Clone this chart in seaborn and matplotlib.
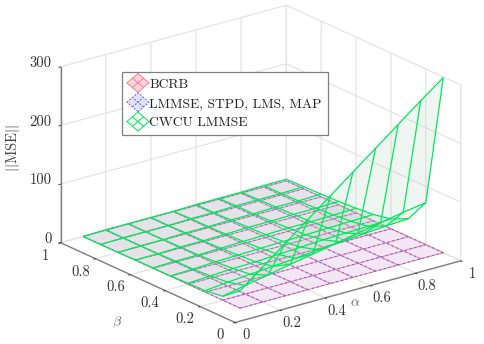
import matplotlib
matplotlib.use("Agg")
import numpy as np
import matplotlib.pyplot as plt
import seaborn as sns
from matplotlib.legend_handler import HandlerBase
from matplotlib.lines import Line2D
from matplotlib.patches import Polygon, Patch
from mpl_toolkits.mplot3d import proj3d

alpha_values = [0.1, 0.2, 0.3, 0.4, 0.5, 0.6, 0.7, 0.8, 0.9, 1.0]
beta_values = [0.1, 0.2, 0.3, 0.4, 0.5, 0.6, 0.7, 0.8, 0.9, 1.0]
bcrb_floor = [0.3, 0.3, 0.3, 0.3, 0.3, 0.3, 0.3, 0.3, 0.3, 0.3]
lmmse_floor = [0.4, 0.4, 0.4, 0.4, 0.4, 0.4, 0.4, 0.4, 0.4, 0.4]
cwcu_b01 = [30, 60, 90, 120, 150, 180, 210, 240, 270, 299]
cwcu_b02 = [7, 15, 22, 30, 37, 44, 52, 59, 66, 72]
cwcu_b03 = [3, 7, 10, 13, 16, 20, 23, 26, 29, 31]
cwcu_b04 = [2, 4, 6, 7, 9, 11, 13, 14, 15, 17]
cwcu_b05 = [1, 2, 4, 5, 6, 7, 8, 9, 10, 11]
cwcu_b06 = [1, 2, 2, 3, 4, 5, 6, 6, 7, 8]
cwcu_b07 = [1, 1, 2, 2, 3, 4, 4, 5, 5, 6]
cwcu_b08 = [0, 1, 1, 2, 2, 3, 3, 4, 4, 5]
cwcu_b09 = [0, 1, 1, 1, 2, 2, 3, 3, 3, 4]
cwcu_b10 = [0, 1, 1, 1, 1, 2, 2, 2, 3, 3]
series_labels = ["BCRB", "LMMSE, STPD, LMS, MAP", "CWCU LMMSE"]
ticks_xy = [0, 0.2, 0.4, 0.6, 0.8, 1]
ticks_z = [0, 100, 200, 300]
tick_labels_xy = ["0", "0.2", "0.4", "0.6", "0.8", "1"]
tick_labels_z = ["0", "100", "200", "300"]

sns.set_theme(style="white")
plt.rcParams["font.family"] = ["cmr10", "DejaVu Serif"]
plt.rcParams["mathtext.fontset"] = "cm"
plt.rcParams["axes.unicode_minus"] = False
plt.rcParams["axes.formatter.use_mathtext"] = True

RED, BLUE, GREEN = "#ff7d93", "#6a60ea", "#00e85c"
X, Y = np.meshgrid(alpha_values, beta_values)
Z_cwcu = np.array([cwcu_b01, cwcu_b02, cwcu_b03, cwcu_b04, cwcu_b05,
                   cwcu_b06, cwcu_b07, cwcu_b08, cwcu_b09, cwcu_b10], dtype=float)
Z_bcrb = np.outer(np.ones(len(beta_values)), bcrb_floor)
Z_lmmse = np.outer(np.ones(len(beta_values)), lmmse_floor)

fig = plt.figure(figsize=(4.84, 3.44), dpi=100)
ax = fig.add_axes([14 / 484, 3.5 / 344, 1, 1], projection="3d", proj_type="ortho", computed_zorder=False)
ax.view_init(elev=20.7, azim=-127.7)
ax.set_box_aspect((1, 1, 0.659), zoom=1.256)
ax.set_xlim(0, 1); ax.set_ylim(0, 1); ax.set_zlim(0, 300)
ax.patch.set_alpha(0)

marks = [
    ax.plot_surface(X, Y, Z_bcrb, color="#f3c6e6", alpha=0.32, linewidth=0, shade=False, zorder=1),
    ax.plot_wireframe(X, Y, Z_bcrb, color=RED, linewidth=0.8, zorder=2),
    ax.plot_surface(X, Y, Z_lmmse, color="#d8d8f4", alpha=0.22, linewidth=0, shade=False, zorder=3),
    ax.plot_wireframe(X, Y, Z_lmmse, color=BLUE, linewidth=0.65, linestyle=(0, (2.5, 3)), zorder=4),
    ax.plot_surface(X, Y, Z_cwcu, color="#a5cbae", alpha=0.17, linewidth=0, shade=False, zorder=5),
    ax.plot_wireframe(X, Y, Z_cwcu, color=GREEN, linewidth=0.9, zorder=6),
]
for m in marks:
    m.set_clip_on(False)

ax.set_xticks(ticks_xy); ax.set_xticklabels([""] * len(ticks_xy))
ax.set_yticks(ticks_xy); ax.set_yticklabels([""] * len(ticks_xy))
ax.set_zticks(ticks_z); ax.set_zticklabels([""] * len(ticks_z))
for a in (ax.xaxis, ax.yaxis, ax.zaxis):
    a.set_pane_color((1, 1, 1, 0))
    a.pane.set_edgecolor("#dddddd")
    a._axinfo["grid"].update(color="#e4e4e4", linewidth=0.9)
    a._axinfo["tick"].update(inward_factor=0.1, outward_factor=0.0, color="#999999", linewidth={True: 0.6, False: 0.4})
    a.line.set_color("#808080")
    a.line.set_linewidth(1.0)


def tick_text(x, y, z, label, dx, dy, ha="center"):
    px, py, _ = proj3d.proj_transform(x, y, z, ax.get_proj())
    ax.annotate(label, xy=(px, py), xycoords="data", xytext=(dx, dy), textcoords="offset pixels",
                ha=ha, va="center", fontsize=10.5, color="#333333", annotation_clip=False)


for v, s in zip(ticks_xy, tick_labels_xy):
    tick_text(v, 0, 0, s, 11.5, -13)
    tick_text(0, v, 0, s, -15, -13)
for v, s in zip(ticks_z, tick_labels_z):
    tick_text(0, 1, v, s, -9, 3.5, ha="right")

fig.text(355 / 484, 1 - 303 / 344, r"$\alpha$", fontsize=10, color="#666666", ha="center", va="center")
fig.text(117 / 484, 1 - 322 / 344, r"$\beta$", fontsize=10, color="#666666", ha="center", va="center")
fig.text(13 / 484, 1 - 148 / 344, r"$||$MSE$||$", fontsize=10.5, color="#444444", rotation=90, ha="center", va="center")


class MeshHandler(HandlerBase):
    def __init__(self, edge, face, dashed=False):
        super().__init__()
        self.edge, self.face, self.dashed = edge, face, dashed

    def create_artists(self, legend, orig, xd, yd, w, h, fs, trans):
        cx, cy = w / 2 - xd, h / 2 - yd
        rx, ry = 4.0, 3.4
        def p(u, v):
            return (cx + rx * (u - v), cy + ry * (u + v))
        artists = [Polygon([p(-1, -1), p(1, -1), p(1, 1), p(-1, 1)], closed=True, fc=self.face,
                           ec="none", transform=trans)]
        ls = (0, (2, 1.5)) if self.dashed else "-"
        for t in (-1, 0, 1):
            for a, b in ((p(t, -1), p(t, 1)), (p(-1, t), p(1, t))):
                artists.append(Line2D([a[0], b[0]], [a[1], b[1]], color=self.edge, lw=0.7,
                                      linestyle=ls, transform=trans))
        return artists


handles = [Patch(label=s) for s in series_labels]
hmap = {handles[0]: MeshHandler(RED, "#fbd5dc"),
        handles[1]: MeshHandler(BLUE, "#dfe3f8", True),
        handles[2]: MeshHandler(GREEN, "#f2fdf5")}
leg = fig.legend(handles=handles, handler_map=hmap, loc="upper left",
                 bbox_to_anchor=(122 / 484, 1 - 72 / 344), fontsize=9.8, frameon=True, fancybox=False,
                 edgecolor="#808080", framealpha=1, borderaxespad=0, borderpad=0.45,
                 labelspacing=0.5, handlelength=1.45, handletextpad=0.1, labelcolor="#222222")
leg.get_frame().set_linewidth(0.9)
leg.set_zorder(20)

fig.savefig("out.png", dpi=100)
